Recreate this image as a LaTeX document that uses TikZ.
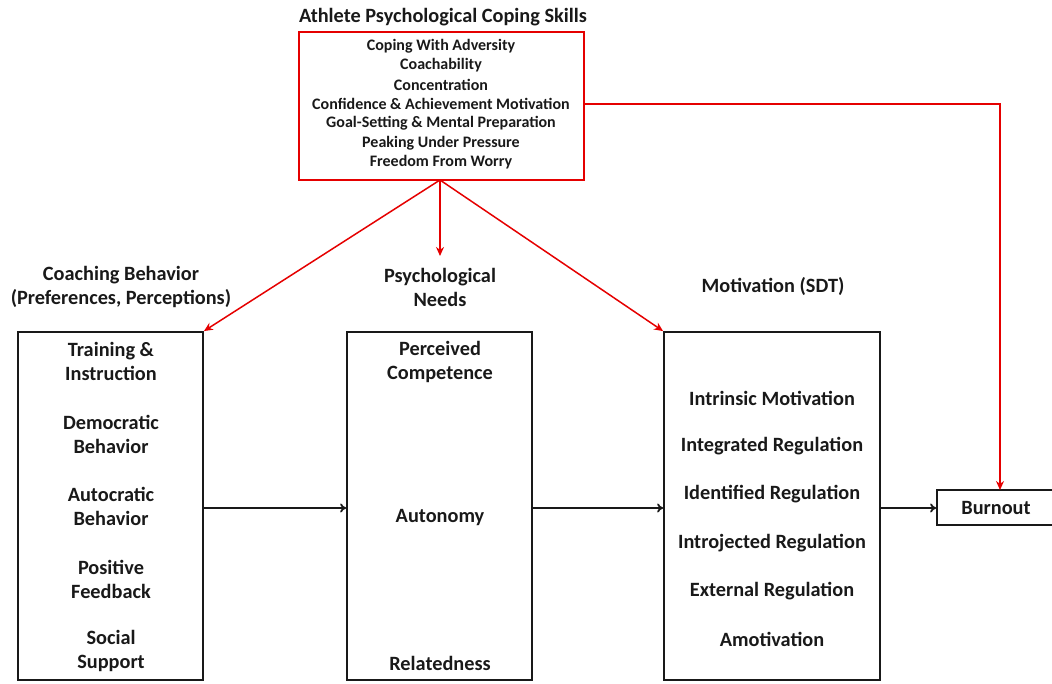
\documentclass[tikz,border=0pt]{standalone}
\usepackage{fontspec}
\setmainfont{Carlito}
\usetikzlibrary{arrows.meta}
\begin{document}
\begin{tikzpicture}[x=1pt,y=-1pt,
  box/.style={draw=black!90,line width=1.8pt},
  redbox/.style={draw=red!90!black,line width=1.8pt},
  lbl/.style={font=\fontsize{20.3}{24}\selectfont\bfseries,text=black!90,align=center,inner sep=0pt},
  item/.style={font=\fontsize{16}{18}\selectfont\bfseries,text=black!90,inner sep=0pt},
  flow/.style={line width=1.8pt,draw=black!90,-{To[length=6pt,width=9pt]}},
  redflow/.style={line width=1.5pt,draw=red!90!black,-{Stealth[length=9pt,width=8pt]},red!90!black}]
\useasboundingbox (0,0) rectangle (1052,684);

% coping skills box
\node[font=\fontsize{20.3}{24}\selectfont\bfseries,text=black!90,inner sep=0pt] (ttl) at (443,17) {Athlete Psychological Coping Skills};
\node[redbox,minimum width=285pt,minimum height=148pt,inner sep=0pt] (cope) at (441.5,106) {};
\node[item] (c1) at (441,46) {Coping With Adversity};
\node[item] (c2) at (441,65) {Coachability};
\node[item] (c3) at (441,85) {Concentration};
\node[item] (c4) at (441,104) {Confidence \& Achievement Motivation};
\node[item] (c5) at (441,123) {Goal-Setting \& Mental Preparation};
\node[item] (c6) at (441,143) {Peaking Under Pressure};
\node[item] (c7) at (441,162) {Freedom From Worry};

% column headings
\node[lbl] (hcoach) at (121,287) {Coaching Behavior\\(Preferences, Perceptions)};
\node[lbl] (hneeds) at (440,287) {Psychological\\Needs};
\node[lbl] (hmot) at (773,287) {Motivation (SDT)};

% three main boxes
\node[box,minimum width=185pt,minimum height=348pt,inner sep=0pt] (coach) at (110.5,506) {};
\node[box,minimum width=185pt,minimum height=348pt,inner sep=0pt] (needs) at (439.5,506) {};
\node[box,minimum width=216pt,minimum height=348pt,inner sep=0pt] (mot) at (772,506) {};
\node[box,minimum width=118pt,minimum height=35pt,inner sep=0pt] (burn) at (996,507.5) {};
\node[lbl] (burnt) at (996,508) {Burnout};

% coaching behaviour items
\node[lbl] (b1) at (111,361.5) {Training \&\\Instruction};
\node[lbl] (b2) at (111,434) {Democratic\\Behavior};
\node[lbl] (b3) at (111,506) {Autocratic\\Behavior};
\node[lbl] (b4) at (111,579) {Positive\\Feedback};
\node[lbl] (b5) at (111,651) {Social\\Support};

% needs items
\node[lbl] (n1) at (440,361.5) {Perceived\\Competence};
\node[lbl] (n2) at (440,518) {Autonomy};
\node[lbl] (n3) at (440,663) {Relatedness};

% motivation items
\node[lbl] (m1) at (772,398) {Intrinsic Motivation};
\node[lbl] (m2) at (772,446) {Integrated Regulation};
\node[lbl] (m3) at (772,494) {Identified Regulation};
\node[lbl] (m4) at (772,543) {Introjected Regulation};
\node[lbl] (m5) at (772,591) {External Regulation};
\node[lbl] (m6) at (772,639) {Amotivation};

% black flow arrows
\draw[flow] (coach.east |- 0,508) -- (needs.west |- 0,508);
\draw[flow] (needs.east |- 0,508) -- (mot.west |- 0,508);
\draw[flow] (mot.east |- 0,508) -- (burn.west |- 0,508);

% red paths from coping skills
\coordinate (cb) at (440,180);
\coordinate (nt) at (440,256);
\draw[redflow] (cb) -- (coach.north east);
\draw[redflow] (cb) -- (nt);
\draw[redflow] (cb) -- (mot.north west);
\draw[redflow] (cope.east |- 0,104) -- (1000,104) -- (1000,490);
\end{tikzpicture}
\end{document}
